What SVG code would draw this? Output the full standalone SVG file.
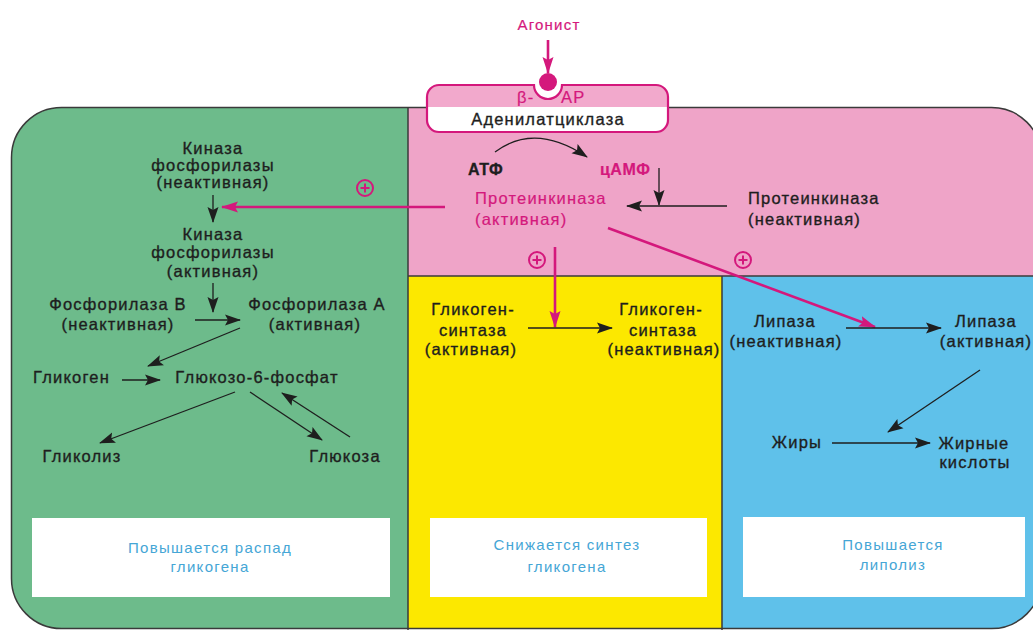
<svg xmlns="http://www.w3.org/2000/svg" width="1033" height="630" viewBox="0 0 1033 630">
<style>
text{font-family:"Liberation Sans",Arial,sans-serif;font-size:16.5px;letter-spacing:1.2px;fill:#1e1e1e;stroke:#1e1e1e;stroke-width:0.35}
.c{text-anchor:middle}
.m{fill:#d4187c;stroke:#d4187c;stroke-width:0.2}
.w{fill:#45a6d6;stroke:none;font-size:15px;letter-spacing:1.3px}
.b{font-weight:bold;font-size:16px;letter-spacing:0.5px}
.k{stroke:#1e1e1e;stroke-width:1.3;fill:none}
.mg{stroke:#d4187c;stroke-width:2.6;fill:none}
.plus{stroke:#d4187c;stroke-width:2;fill:none}
.div{stroke:#3a3a3a;stroke-width:1.5;fill:none}
</style>
<defs>
<clipPath id="outer"><rect x="11.5" y="107.5" width="1030" height="521" rx="50"/></clipPath>
<marker id="ak" markerUnits="userSpaceOnUse" markerWidth="17" markerHeight="12" refX="15" refY="5.5" orient="auto" viewBox="0 0 17 11"><path d="M0,0 L16,5.5 L0,11 L3,5.5 Z" fill="#1e1e1e"/></marker>
<marker id="am" markerUnits="userSpaceOnUse" markerWidth="18" markerHeight="12" refX="16" refY="5.5" orient="auto" viewBox="0 0 18 11"><path d="M0,0 L17,5.5 L0,11 L3,5.5 Z" fill="#d4187c"/></marker>
<linearGradient id="hdr" gradientUnits="userSpaceOnUse" x1="0" y1="85" x2="0" y2="132"><stop offset="0.468" stop-color="#f2a9cc"/><stop offset="0.468" stop-color="#ffffff"/></linearGradient>
</defs>

<g id="panels" clip-path="url(#outer)">
<rect id="green" x="0" y="100" width="408" height="540" fill="#6dbb8b"/>
<rect id="pink" x="408" y="100" width="640" height="176" fill="#efa4c8"/>
<rect id="yellow" x="408" y="276" width="314" height="360" fill="#fce800"/>
<rect id="blue" x="722" y="276" width="330" height="360" fill="#5fc1ea"/>
</g>
<rect x="11.5" y="107.5" width="1030" height="521" rx="50" class="div"/>
<g id="dividers" class="div">
<line x1="408" y1="107" x2="408" y2="630"/>
<line x1="408" y1="276" x2="1041" y2="276"/>
<line x1="722" y1="276" x2="722" y2="630"/>
</g>

<g id="receptor">
<path d="M439,85 H534 A14,14 0 0 0 562,85 H656 A12,12 0 0 1 668,97 V120 A12,12 0 0 1 656,132 H439 A12,12 0 0 1 427,120 V97 A12,12 0 0 1 439,85 Z" fill="url(#hdr)" stroke="#d4187c" stroke-width="2.2"/>
<circle cx="548" cy="82" r="9" fill="#d4187c"/>
<text x="517" y="103" class="m">β-</text>
<text x="561" y="103" class="m">AP</text>
<text x="548" y="125" class="c">Аденилатциклаза</text>
</g>
<g id="agonist"><text x="549" y="30" class="c m" style="font-size:15px">Агонист</text></g>

<g id="pink-nodes">
<text x="468" y="175" class="b">АТФ</text>
<text x="600" y="175" class="m b">цАМФ</text>
<text x="475" y="204" class="m">Протеинкиназа</text>
<text x="475" y="225" class="m">(активная)</text>
<text x="748" y="204">Протеинкиназа</text>
<text x="748" y="225">(неактивная)</text>
</g>

<g id="green-nodes">
<text x="213" y="154" class="c">Киназа</text>
<text x="213" y="171" class="c">фосфорилазы</text>
<text x="213" y="188" class="c">(неактивная)</text>
<text x="213" y="240" class="c">Киназа</text>
<text x="213" y="258" class="c">фосфорилазы</text>
<text x="213" y="277" class="c">(активная)</text>
<text x="118" y="310" class="c">Фосфорилаза В</text>
<text x="118" y="330" class="c">(неактивная)</text>
<text x="317" y="310" class="c">Фосфорилаза А</text>
<text x="315" y="330" class="c">(активная)</text>
<text x="33" y="383">Гликоген</text>
<text x="257" y="383" class="c">Глюкозо-6-фосфат</text>
<text x="82" y="462" class="c">Гликолиз</text>
<text x="345" y="462" class="c">Глюкоза</text>
</g>

<g id="yellow-nodes">
<text x="473" y="315" class="c">Гликоген-</text>
<text x="473" y="336" class="c">синтаза</text>
<text x="471" y="355" class="c">(активная)</text>
<text x="661" y="315" class="c">Гликоген-</text>
<text x="663" y="336" class="c">синтаза</text>
<text x="664" y="355" class="c">(неактивная)</text>
</g>

<g id="blue-nodes">
<text x="785" y="327" class="c">Липаза</text>
<text x="786" y="347" class="c">(неактивная)</text>
<text x="986" y="327" class="c">Липаза</text>
<text x="986" y="347" class="c">(активная)</text>
<text x="797" y="448" class="c">Жиры</text>
<text x="974" y="449" class="c">Жирные</text>
<text x="975" y="468" class="c">кислоты</text>
</g>

<g id="result-green"><rect x="32" y="518" width="358" height="79" fill="#ffffff"/><text x="210" y="553" class="c w">Повышается распад</text><text x="210" y="572" class="c w">гликогена</text></g>
<g id="result-yellow"><rect x="430" y="518" width="277" height="79" fill="#ffffff"/><text x="567" y="550" class="c w">Снижается синтез</text><text x="567" y="572" class="c w">гликогена</text></g>
<g id="result-blue"><rect x="743" y="517" width="282" height="80" fill="#ffffff"/><text x="893" y="550" class="c w">Повышается</text><text x="893" y="570" class="c w">липолиз</text></g>

<g id="connectors">
<line x1="548" y1="40" x2="548" y2="73" class="mg" marker-end="url(#am)"/>
<path d="M495,152 Q535,122 587,157" class="k" marker-end="url(#ak)"/>
<line x1="659" y1="168" x2="659" y2="205" class="k" marker-end="url(#ak)"/>
<line x1="727" y1="206" x2="627" y2="206" class="k" marker-end="url(#ak)"/>
<line x1="445" y1="207" x2="222" y2="207" class="mg" marker-end="url(#am)"/>
<line x1="555" y1="247" x2="555" y2="327" class="mg" marker-end="url(#am)"/>
<line x1="608" y1="228" x2="875" y2="327" class="mg" marker-end="url(#am)"/>
<line x1="528" y1="328" x2="612" y2="328" class="k" marker-end="url(#ak)"/>
<line x1="846" y1="328" x2="941" y2="328" class="k" marker-end="url(#ak)"/>
<line x1="980" y1="370" x2="888" y2="432" class="k" marker-end="url(#ak)"/>
<line x1="832" y1="443" x2="930" y2="443" class="k" marker-end="url(#ak)"/>
<line x1="213" y1="195" x2="213" y2="222" class="k" marker-end="url(#ak)"/>
<line x1="213" y1="283" x2="213" y2="312" class="k" marker-end="url(#ak)"/>
<line x1="195" y1="320" x2="240" y2="320" class="k" marker-end="url(#ak)"/>
<line x1="240" y1="328" x2="148" y2="366" class="k" marker-end="url(#ak)"/>
<line x1="122" y1="380" x2="160" y2="380" class="k" marker-end="url(#ak)"/>
<line x1="235" y1="392" x2="100" y2="443" class="k" marker-end="url(#ak)"/>
<line x1="250" y1="392" x2="322" y2="440" class="k" marker-end="url(#ak)"/>
<line x1="350" y1="437" x2="282" y2="393" class="k" marker-end="url(#ak)"/>
</g>

<g id="plus-signs" class="plus">
<circle cx="365" cy="188" r="8"/><path d="M360.5,188 H369.5 M365,183.5 V192.5"/>
<circle cx="537" cy="260" r="8"/><path d="M532.5,260 H541.5 M537,255.5 V264.5"/>
<circle cx="743" cy="260" r="8"/><path d="M738.5,260 H747.5 M743,255.5 V264.5"/>
</g>
</svg>
